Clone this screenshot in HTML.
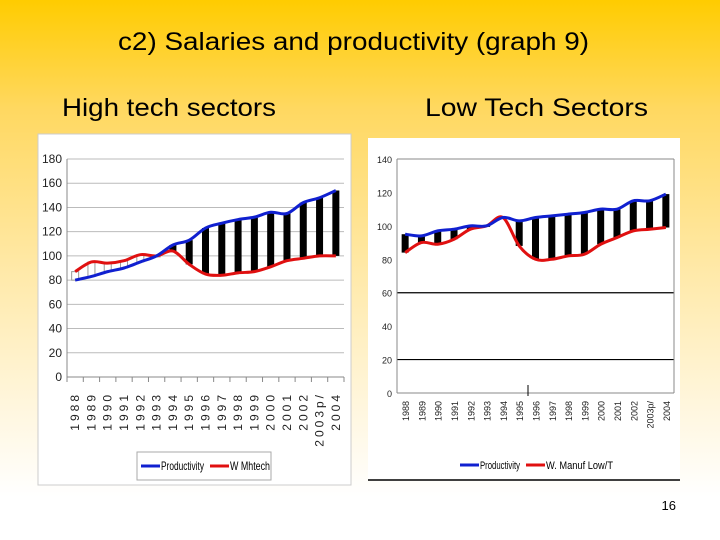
<!DOCTYPE html>
<html><head><meta charset="utf-8"><style>
html,body{margin:0;padding:0;width:720px;height:540px;overflow:hidden}
body{background:linear-gradient(to bottom,#ffcc00 0%,#ffd860 20%,#ffe9a8 50%,#fff6dd 75%,#ffffff 92%);font-family:"Liberation Sans",sans-serif}
svg text{font-family:"Liberation Sans",sans-serif}
</style></head><body>
<svg id="s" width="720" height="540" xmlns="http://www.w3.org/2000/svg">
<text x="118" y="50" font-size="25" textLength="471" lengthAdjust="spacingAndGlyphs">c2) Salaries and productivity (graph 9)</text>
<text x="62" y="116" font-size="25" textLength="214" lengthAdjust="spacingAndGlyphs">High tech sectors</text>
<text x="425" y="116" font-size="25" textLength="223" lengthAdjust="spacingAndGlyphs">Low Tech Sectors</text>
<rect x="38" y="134" width="313" height="351" fill="#fff" stroke="#ccc"/>
<rect x="368" y="138" width="312" height="342" fill="#fff"/>
<line x1="368" y1="480" x2="680" y2="480" stroke="#000" stroke-width="1.5"/>
<text x="676" y="510" font-size="13" text-anchor="end">16</text>
<g id="left"></g>
<g id="right"></g>
</svg>
<script>
const categories=["1988","1989","1990","1991","1992","1993","1994","1995","1996","1997","1998","1999","2000","2001","2002","2003p/","2004"];
const hiProductivity=[80,83,87,90,95,100,109,113,123,127,130,132,136,135,144,148,154];
const hiWage=[87,95,94,96,101,100,104,93,85,84,86,87,91,96,98,100,100];
const hiTicks=[0,20,40,60,80,100,120,140,160,180];
const loProductivity=[95,94,97,98,100,100,105,103,105,106,107,108,110,110,115,115,119];
const loWage=[84,90,89,92,98,100,105,88,80,80,82,83,89,93,97,98,99];
const loTicks=[0,20,40,60,80,100,120,140];
const NS="http://www.w3.org/2000/svg";
function mk(p,t,a){const e=document.createElementNS(NS,t);for(const k in a)e.setAttribute(k,a[k]);p.appendChild(e);return e;}
function smooth(pts){let d="M"+pts[0][0]+","+pts[0][1];for(let i=0;i<pts.length-1;i++){const p0=pts[i-1]||pts[i],p1=pts[i],p2=pts[i+1],p3=pts[i+2]||p2;const c1x=p1[0]+(p2[0]-p0[0])/6,c1y=p1[1]+(p2[1]-p0[1])/6,c2x=p2[0]-(p3[0]-p1[0])/6,c2y=p2[1]-(p3[1]-p1[1])/6;d+=" C"+c1x+","+c1y+" "+c2x+","+c2y+" "+p2[0]+","+p2[1];}return d;}
function chart(g,o){
  const n=categories.length,bw=(o.x1-o.x0)/n;
  const X=i=>o.x0+bw*(i+0.5);
  const Y=v=>o.y0-(v-0)/(o.max)*(o.y0-o.y1);
  o.ticks.forEach(t=>{
    if(o.left){const l=mk(g,"line",{x1:o.x0,x2:o.x1,y1:Y(t),y2:Y(t),stroke:"#bbb","stroke-width":1});}
    else if(t==20||t==60){const l=mk(g,"line",{x1:o.x0,x2:o.x1,y1:Y(t),y2:Y(t),stroke:"#000","stroke-width":1.2});}
    const tx=mk(g,"text",{x:o.x0-5,y:Y(t)+4,"font-size":o.left?12:9,"text-anchor":"end",fill:"#222"});tx.textContent=t;
    
  });
  mk(g,"line",{x1:o.x0,x2:o.x0,y1:o.y1,y2:o.y0,stroke:"#888"});
  mk(g,"line",{x1:o.x0,x2:o.x1,y1:o.y0,y2:o.y0,stroke:"#888"});
  if(!o.left){mk(g,"line",{x1:o.x0,x2:o.x1,y1:o.y1,y2:o.y1,stroke:"#888"});mk(g,"line",{x1:o.x1,x2:o.x1,y1:o.y1,y2:o.y0,stroke:"#888"});mk(g,"line",{x1:528,x2:528,y1:o.y0-8,y2:o.y0+3,stroke:"#000"});}
  else{for(let i=0;i<=n;i++)mk(g,"line",{x1:o.x0+bw*i,x2:o.x0+bw*i,y1:o.y0,y2:o.y0+5,stroke:"#888"});}
  categories.forEach((c,i)=>{
    const a=o.prod[i],b=o.wage[i],top=Math.max(a,b),bot=Math.min(a,b);
    const black=a>b||!o.left;
    const r=mk(g,"rect",{x:X(i)-3.5,y:Y(top),width:7,height:Math.max(1,Y(bot)-Y(top)),fill:black?"#000":"#fff",stroke:black?"none":"#999"});
    
    const t=mk(g,"text",{transform:"translate("+(X(i)+4)+","+(o.y0+(o.left?15:8))+") rotate(-90)","font-size":o.left?12:9,"text-anchor":"end","letter-spacing":o.left?"3":"0",fill:"#222"});
    t.textContent=c;
  });
  const lp=mk(g,"path",{d:smooth(o.wage.map((v,i)=>[X(i),Y(v)])),fill:"none",stroke:"#e01010","stroke-width":3});
  
  const pp=mk(g,"path",{d:smooth(o.prod.map((v,i)=>[X(i),Y(v)])),fill:"none",stroke:"#1020d0","stroke-width":3});
  
  const L=o.leg;
  if(o.left){const b=mk(g,"rect",{x:L.x-4,y:L.y-14,width:134,height:28,fill:"#fff",stroke:"#aaa"});}
  mk(g,"line",{x1:L.x,x2:L.x+19,y1:L.y,y2:L.y,stroke:"#1020d0","stroke-width":3});
  const t1=mk(g,"text",{x:L.x+20,y:L.y+4,"font-size":o.left?12:11,textLength:L.w1,lengthAdjust:"spacingAndGlyphs"});t1.textContent="Productivity";
  
  mk(g,"line",{x1:L.x2,x2:L.x2+19,y1:L.y,y2:L.y,stroke:"#e01010","stroke-width":3});
  const t2=mk(g,"text",{x:L.x2+20,y:L.y+4,"font-size":o.left?12:11,textLength:L.w2,lengthAdjust:"spacingAndGlyphs"});t2.textContent=o.wname;
  
}
chart(document.getElementById('left'),{left:true,x0:67,x1:344,y0:377,y1:159,max:180,ticks:hiTicks,prod:hiProductivity,wage:hiWage,wname:"W Mhtech",leg:{x:141,y:466,x2:210,w1:43,w2:40}});
chart(document.getElementById('right'),{left:false,x0:397,x1:674,y0:393,y1:159,max:140,ticks:loTicks,prod:loProductivity,wage:loWage,wname:"W. Manuf Low/T",leg:{x:460,y:465,x2:526,w1:40,w2:67}});
</script>
</body></html>
